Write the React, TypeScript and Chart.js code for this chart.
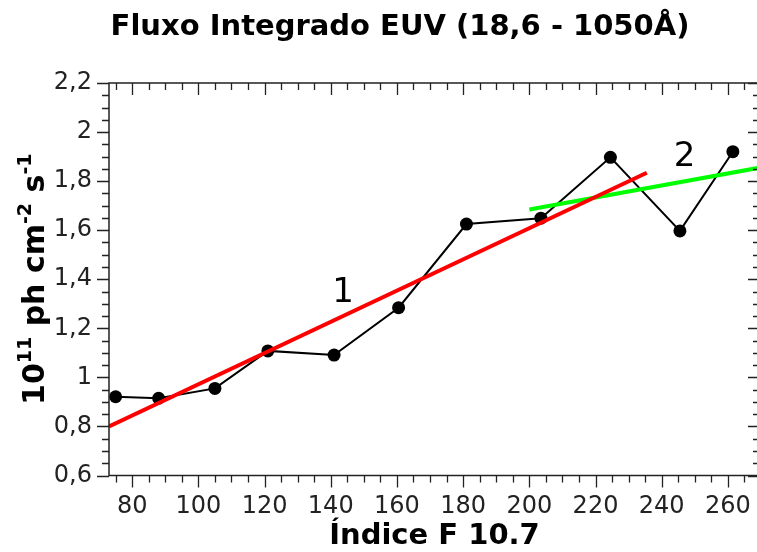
import React, { useEffect, useRef } from "react";
import { Chart, registerables } from "chart.js";

Chart.register(...registerables);

// Measured integrated EUV flux (18.6 - 1050 Å) against the F10.7 index
const f107 = [75, 88, 105, 121, 141, 160.5, 181, 203.5, 224.5, 245.5, 261.5];
const euvFlux = [0.921, 0.915, 0.955, 1.108, 1.091, 1.284, 1.625, 1.649, 1.897, 1.597, 1.92];

// Linear fits: regime 1 (low activity) and regime 2 (high activity)
const fit1X = [73, 235.5];
const fit1Y = [0.8, 1.834];
const fit2X = [200, 275];
const fit2Y = [1.684, 1.868];

// Axis ticks
const xTicks = [80, 100, 120, 140, 160, 180, 200, 220, 240, 260];
const yTicks = [0.6, 0.8, 1, 1.2, 1.4, 1.6, 1.8, 2, 2.2];
const yTickLabels = ["0,6", "0,8", "1", "1,2", "1,4", "1,6", "1,8", "2", "2,2"];
const xMinorStep = 5;
const yMinorStep = 0.05;

// Regime labels placed in data coordinates (baseline)
const regimeLabels = ["1", "2"];
const regimeLabelX = [143.7, 246.9];
const regimeLabelY = [1.308, 1.862];

const X_MIN = 73;
const X_MAX = 269.7;
const Y_MIN = 0.6;
const Y_MAX = 2.2;

const FONT = "'DejaVu Sans', sans-serif";

const decorPlugin = {
  id: "decor",
  afterDatasetsDraw(chart: any) {
    const { ctx, chartArea } = chart;
    const xs = chart.scales.x;
    const ys = chart.scales.y;
    const { left, right, top, bottom } = chartArea;
    ctx.save();

    // frame
    ctx.strokeStyle = "#222";
    ctx.lineWidth = 1.5;
    ctx.strokeRect(left, top, right - left, bottom - top);

    // ticks: outside on left/bottom, inside on top/right
    ctx.lineWidth = 1.3;
    ctx.beginPath();
    const majorLen = 12;
    const minorLen = 7;
    for (let v = 75; v <= X_MAX + 1e-9; v += xMinorStep) {
      const isMajor = xTicks.includes(v);
      const len = isMajor ? majorLen : minorLen;
      const px = Math.round(xs.getPixelForValue(v)) + 0.5;
      ctx.moveTo(px, bottom);
      ctx.lineTo(px, bottom + len);
      ctx.moveTo(px, top);
      ctx.lineTo(px, top + len);
    }
    for (let i = 0; Y_MIN + i * yMinorStep <= Y_MAX + 1e-9; i++) {
      const v = Y_MIN + i * yMinorStep;
      const isMajor = i % 4 === 0;
      const len = isMajor ? majorLen : minorLen;
      const py = Math.round(ys.getPixelForValue(v)) + 0.5;
      ctx.moveTo(left - len, py);
      ctx.lineTo(left, py);
      ctx.moveTo(right - len, py);
      ctx.lineTo(right, py);
    }
    ctx.stroke();

    // regime labels
    ctx.fillStyle = "#000";
    ctx.font = `34px ${FONT}`;
    ctx.textAlign = "center";
    ctx.textBaseline = "alphabetic";
    regimeLabels.forEach((t, i) => {
      ctx.fillText(t, xs.getPixelForValue(regimeLabelX[i]), ys.getPixelForValue(regimeLabelY[i]));
    });
    ctx.restore();
  },
  afterDraw(chart: any) {
    const { ctx } = chart;
    ctx.save();
    ctx.fillStyle = "#000";

    // chart title
    ctx.font = `bold 29px ${FONT}`;
    ctx.textAlign = "center";
    ctx.textBaseline = "alphabetic";
    ctx.fillText("Fluxo Integrado EUV (18,6 - 1050Å)", 400, 35);

    // rotated y-axis title with superscripts
    const parts = [
      { t: "10", sup: false },
      { t: "11", sup: true },
      { t: " ph cm", sup: false },
      { t: "-2", sup: true },
      { t: " s", sup: false },
      { t: "-1", sup: true },
    ];
    const mainFont = `bold 30px ${FONT}`;
    const supFont = `bold 19px ${FONT}`;
    let total = 0;
    const widths = parts.map((p) => {
      ctx.font = p.sup ? supFont : mainFont;
      const w = ctx.measureText(p.t).width;
      total += w;
      return w;
    });
    const cy = (chart.chartArea.top + chart.chartArea.bottom) / 2;
    ctx.translate(44, cy);
    ctx.rotate(-Math.PI / 2);
    ctx.textAlign = "left";
    let u = -total / 2;
    parts.forEach((p, i) => {
      ctx.font = p.sup ? supFont : mainFont;
      ctx.fillText(p.t, u, p.sup ? -13 : 0);
      u += widths[i];
    });
    ctx.restore();
  },
};

export default function App() {
  const canvasRef = useRef<HTMLCanvasElement | null>(null);

  useEffect(() => {
    const canvas = canvasRef.current;
    if (!canvas) return;
    const chart = new Chart(canvas, {
      type: "scatter",
      data: {
        datasets: [
          {
            label: "fit 1",
            data: fit1X.map((x, i) => ({ x, y: fit1Y[i] })),
            showLine: true,
            borderColor: "rgb(255,0,0)",
            borderWidth: 4,
            pointRadius: 0,
            order: 0,
          },
          {
            label: "fit 2",
            data: fit2X.map((x, i) => ({ x, y: fit2Y[i] })),
            showLine: true,
            borderColor: "rgb(0,255,0)",
            borderWidth: 4,
            pointRadius: 0,
            order: 0,
          },
          {
            label: "EUV",
            data: f107.map((x, i) => ({ x, y: euvFlux[i] })),
            showLine: true,
            borderColor: "#000",
            borderWidth: 2,
            pointRadius: 6.5,
            pointBackgroundColor: "#000",
            pointBorderColor: "#000",
            pointBorderWidth: 0,
            order: 1,
          },
        ],
      },
      options: {
        responsive: false,
        animation: false,
        layout: { padding: { top: 83, right: 10, left: 0, bottom: 0 } },
        plugins: {
          legend: { display: false },
          title: { display: false },
          tooltip: { enabled: false },
        },
        scales: {
          x: {
            type: "linear",
            position: "bottom",
            min: X_MIN,
            max: X_MAX,
            grid: { display: false, drawTicks: false },
            border: { display: false },
            afterBuildTicks: (s: any) => {
              s.ticks = xTicks.map((v) => ({ value: v }));
            },
            afterFit: (s: any) => {
              s.height = 76.5;
            },
            ticks: {
              autoSkip: false,
              maxRotation: 0,
              padding: 17,
              color: "#222",
              font: { family: FONT, size: 24 },
              callback: (v: any) => String(v),
            },
            title: {
              display: true,
              text: "Índice F 10.7",
              color: "#000",
              padding: 0,
              font: { family: FONT, size: 29, weight: "bold", lineHeight: 1.1 },
            },
          },
          y: {
            type: "linear",
            min: Y_MIN,
            max: Y_MAX,
            grid: { display: false, drawTicks: false },
            border: { display: false },
            afterBuildTicks: (s: any) => {
              s.ticks = yTicks.map((v) => ({ value: v }));
            },
            afterFit: (s: any) => {
              s.width = 109;
            },
            ticks: {
              autoSkip: false,
              padding: 17,
              color: "#222",
              font: { family: FONT, size: 24 },
              callback: (_v: any, i: number) => yTickLabels[i],
            },
          },
        },
      },
      plugins: [decorPlugin],
    } as any);
    return () => chart.destroy();
  }, []);

  return (
    <div style={{ position: "fixed", left: 0, top: 0, width: 770, height: 552, background: "#fff" }}>
      <canvas ref={canvasRef} width={770} height={552} style={{ display: "block", width: 770, height: 552 }} />
    </div>
  );
}
